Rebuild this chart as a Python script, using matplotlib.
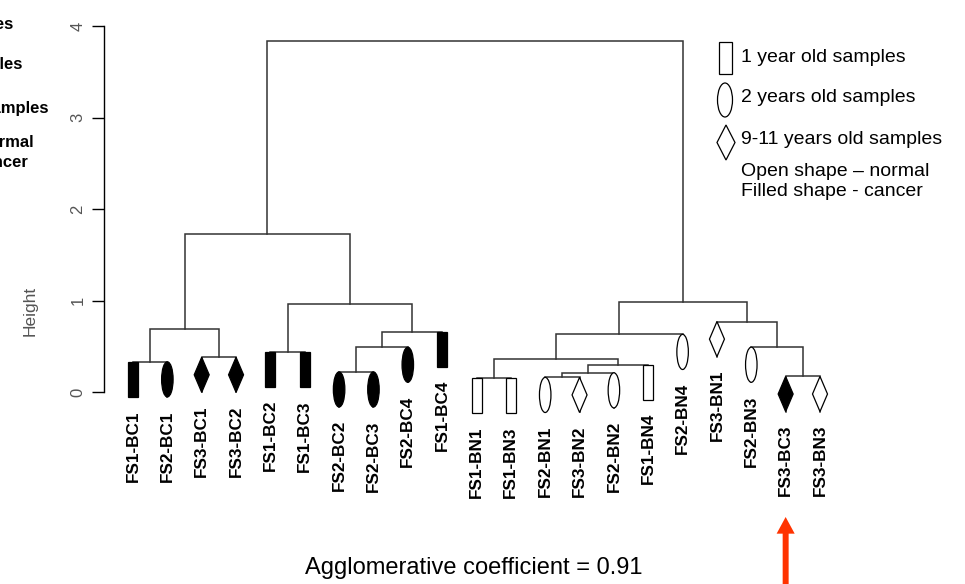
import matplotlib
matplotlib.use("Agg")
import matplotlib.pyplot as plt
import matplotlib.transforms as mtransforms
from matplotlib.patches import Rectangle, Ellipse, Polygon, FancyArrowPatch

plt.rcParams['font.family'] = ['Liberation Sans', 'DejaVu Sans']

# ---------------- data ----------------
leaf_labels = ["FS1-BC1", "FS2-BC1", "FS3-BC1", "FS3-BC2", "FS1-BC2", "FS1-BC3",
               "FS2-BC2", "FS2-BC3", "FS2-BC4", "FS1-BC4", "FS1-BN1", "FS1-BN3",
               "FS2-BN1", "FS3-BN2", "FS2-BN2", "FS1-BN4", "FS2-BN4", "FS3-BN1",
               "FS2-BN3", "FS3-BC3", "FS3-BN3"]
# R-style merge matrix: negative = leaf (1-based, plotting order), positive = earlier merge step
merge_a = [-1, -3, 1, -5, -7, 5, 6, 4, 3, -11, -13, 11, 12, 10, 14, -20, -19, -18, 15, 9]
merge_b = [-2, -4, 2, -6, -8, -9, -10, 7, 8, -12, -14, -15, -16, 13, -17, -21, 16, 17, 18, 19]
merge_height = [0.33, 0.38, 0.69, 0.44, 0.22, 0.49, 0.66, 0.96, 1.73, 0.15,
                0.16, 0.21, 0.30, 0.36, 0.63, 0.17, 0.49, 0.77, 0.98, 3.84]
y_ticks = [0, 1, 2, 3, 4]
agglomerative_coef = 0.91
legend_texts = ["1 year old samples", "2 years old samples", "9-11 years old samples",
                "Open shape \u2013 normal", "Filled shape - cancer"]
highlight_label = "FS3-BC3"

# ---------------- figure ----------------
W, H = 965, 584
fig = plt.figure(figsize=(W / 100, H / 100), dpi=100)
ax = fig.add_axes([0, 0, 1, 1])
px_per_x = 34.35
x0_px = 133
px_per_y = 91.5
y0_px = 392
ax.set_xlim(-x0_px / px_per_x, (W - x0_px) / px_per_x)
ax.set_ylim((y0_px - H) / px_per_y, y0_px / px_per_y)

line_col = '#333333'
lw = 1.1
hang = 0.1 * max(merge_height)

# node positions
n = len(merge_height)
node_x = {}
def child_x(c):
    return float(-c - 1) if c < 0 else node_x[c]
def child_top(c, h):
    return h - hang if c < 0 else merge_height[c - 1]

leaf_top = {}
for i in range(n):
    a, b, h = merge_a[i], merge_b[i], merge_height[i]
    xa, xb = child_x(a), child_x(b)
    node_x[i + 1] = (xa + xb) / 2
    ya, yb = child_top(a, h), child_top(b, h)
    ax.plot([xa, xa, xb, xb], [ya, h, h, yb], color=line_col, lw=lw,
            solid_joinstyle='miter', zorder=2)
    for c in (a, b):
        if c < 0:
            leaf_top[-c - 1] = h

# shapes and labels on leaves
for idx, lab in enumerate(leaf_labels):
    top = leaf_top[idx]
    bot = top - hang
    fc = 'black' if 'BC' in lab else 'white'
    kind = lab[:3]
    if kind == 'FS1':
        w = 10 / px_per_x
        p = Rectangle((idx - w / 2, bot), w, hang, fc=fc, ec='black', lw=0.9, zorder=3)
    elif kind == 'FS2':
        w = 11.5 / px_per_x
        p = Ellipse((idx, (top + bot) / 2), w, hang, fc=fc, ec='black', lw=0.9, zorder=3)
    else:
        hw = 7.5 / px_per_x
        p = Polygon([(idx, top), (idx + hw, (top + bot) / 2), (idx, bot),
                     (idx - hw, (top + bot) / 2)], closed=True, fc=fc, ec='black',
                    lw=0.9, zorder=3)
    ax.add_patch(p)
    ax.annotate(lab, xy=(idx, bot), xytext=(0, -9.5), textcoords='offset points',
                rotation=90, ha='center', va='top', fontsize=12.3,
                fontweight='bold', color='black')

# axis
for s in ('top', 'right', 'bottom'):
    ax.spines[s].set_visible(False)
ax.spines['left'].set_position(('data', (104 - x0_px) / px_per_x))
ax.spines['left'].set_bounds(min(y_ticks), max(y_ticks))
ax.spines['left'].set_linewidth(1.0)
ax.set_xticks([])
ax.set_yticks(y_ticks)
ax.set_yticklabels([str(t) for t in y_ticks])
ax.tick_params(axis='y', direction='out', length=8.5, width=1.0, pad=5,
               labelsize=12, labelcolor='#555555', labelrotation=90)
for t in ax.get_yticklabels():
    t.set_va('center')

# pixel transform (top-left origin) for annotations
pix = mtransforms.Affine2D().scale(1 / W, -1 / H).translate(0, 1) + fig.transFigure

fig.text(30, 311, "Height", transform=pix, rotation=90, ha='center', va='center',
         fontsize=12.5, color='#555555')

fig.text(474, 568, "Agglomerative coefficient = %.2f" % agglomerative_coef, transform=pix,
         ha='center', va='center', fontsize=17, color='black')

# legend on the right
lfc = 'white'
fig.patches.append(Rectangle((718.5, 41.5), 13, 32, transform=pix, fc=lfc, ec='black', lw=0.9))
fig.patches.append(Ellipse((725, 100), 15, 34, transform=pix, fc=lfc, ec='black', lw=0.9))
fig.patches.append(Polygon([(726, 125), (735, 142.5), (726, 160), (717, 142.5)], closed=True,
                           transform=pix, fc=lfc, ec='black', lw=0.9))
leg_y = [57, 97, 140, 172, 192]
for t, y in zip(legend_texts, leg_y):
    fig.text(741, y, t, transform=pix, ha='left', va='center', fontsize=14, color='black')

# cut-off legend copy at the left edge
left_x = [13, 22, 49, 34, 28]
left_y = [25, 65, 108, 142, 162]
for t, x, y in zip(legend_texts, left_x, left_y):
    fig.text(x, y, t, transform=pix, ha='right', va='center', fontsize=12,
             fontweight='bold', color='black')

# red arrow pointing at highlighted sample
hx = leaf_labels.index(highlight_label)
tip_y = (y0_px - 517) / px_per_y
tail_y = (y0_px - 600) / px_per_y
arrow = FancyArrowPatch((hx, tail_y), (hx, tip_y),
                        arrowstyle='simple,head_length=12,head_width=13,tail_width=4.3',
                        mutation_scale=1, color='#FF3300', lw=0, shrinkA=0, shrinkB=0,
                        clip_on=False)
ax.add_patch(arrow)

fig.savefig("out.png", dpi=100)
